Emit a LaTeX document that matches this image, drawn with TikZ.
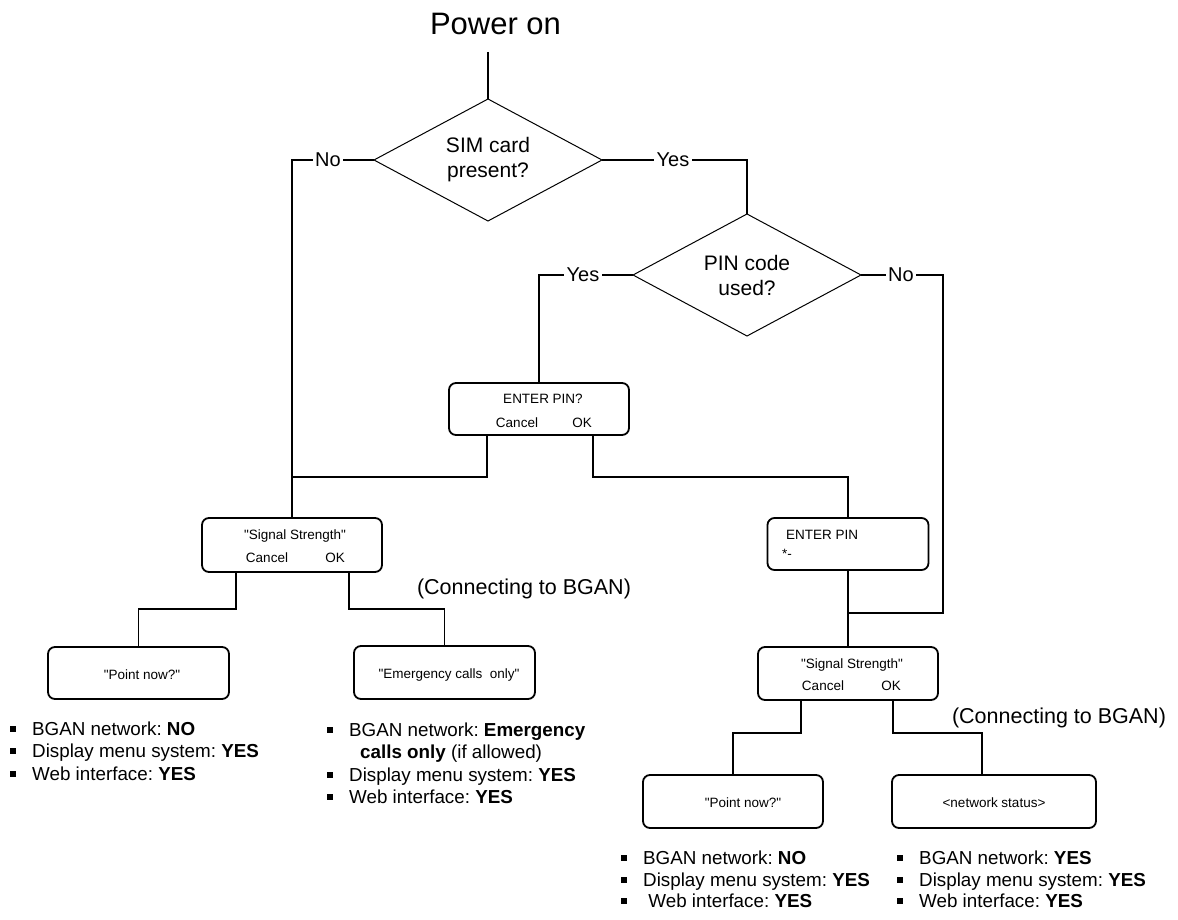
\documentclass[tikz,border=0pt]{standalone}
\usepackage{fontspec}
\setmainfont{Liberation Sans}[Ligatures=TeXOff]
\usetikzlibrary{shapes.geometric}
\newcommand{\bul}{\llap{\rule[3pt]{6pt}{6pt}\hspace{16pt}}}
\begin{document}
\frenchspacing
\begin{tikzpicture}[x=1pt,y=-1pt,
  conn/.style={line width=1.7pt},
  dia/.style={shape=diamond, draw, line width=1pt, minimum width=228pt, minimum height=122pt, inner sep=0pt, outer sep=0pt, aspect=1.87, align=center, font=\fontsize{21}{25}\selectfont},
  scr/.style={draw, line width=1.8pt, rounded corners=7pt, inner sep=0pt, outer sep=0pt},
  lbl/.style={font=\fontsize{20}{24}\selectfont, inner sep=2.5pt},
  stxt/.style={font=\fontsize{13.5}{16}\selectfont, anchor=base, inner sep=0pt},
  sltxt/.style={font=\fontsize{13.5}{16}\selectfont, anchor=base west, inner sep=0pt},
  btxt/.style={font=\fontsize{18.8}{22}\selectfont, anchor=base west, inner sep=0pt},
  note/.style={font=\fontsize{21.5}{25}\selectfont, anchor=base, inner sep=0pt}
]
\useasboundingbox (0,0) rectangle (1178,920);

% title
\node[font=\fontsize{31}{36}\selectfont, anchor=base, inner sep=0pt] (pwr) at (495.5,35) {Power on};
\coordinate (p0) at (488,52);

% decisions
\node[dia] (d1) at (488,160) {SIM card\\present?};
\node[dia] (d2) at (747,275) {PIN code\\used?};

% labels
\node[lbl] (no1) at (328,160) {No};
\node[lbl] (yes1) at (673,160) {Yes};
\node[lbl] (yes2) at (583,275) {Yes};
\node[lbl] (no2) at (901,275) {No};

% screens
\node[scr, minimum width=180pt, minimum height=52pt] (epq) at (539,409) {};
\node[scr, minimum width=180pt, minimum height=54pt] (ss1) at (292,545) {};
\node[scr, minimum width=161pt, minimum height=52pt] (ep) at (848,544) {};
\node[scr, minimum width=180pt, minimum height=53pt] (ss2) at (848,673.5) {};
\node[scr, minimum width=181pt, minimum height=52pt] (pn1) at (138.5,673) {};
\node[scr, minimum width=181pt, minimum height=53pt] (em) at (444.5,672.5) {};
\node[scr, minimum width=180pt, minimum height=53pt] (pn2) at (733,801.5) {};
\node[scr, minimum width=204pt, minimum height=53pt] (ns) at (994,801.5) {};

% screen texts
\node[stxt] (epq1) at (543,403) {ENTER PIN?};
\node[stxt] (epq2) at (517,427) {Cancel};
\node[stxt] (epq3) at (582,427) {OK};
\node[stxt] (ss1a) at (295,539) {"Signal Strength"};
\node[stxt] (ss1b) at (267,562) {Cancel};
\node[stxt] (ss1c) at (335,562) {OK};
\node[sltxt] (ep1) at (786,539) {ENTER PIN};
\node[sltxt] (ep2) at (782,558) {*-};
\node[stxt] (ss2a) at (852,668) {"Signal Strength"};
\node[stxt] (ss2b) at (823,690) {Cancel};
\node[stxt] (ss2c) at (891,690) {OK};
\node[stxt] (pn1t) at (142,679) {"Point now?"};
\node[stxt] (emt) at (449,678) {"Emergency calls\ \ only"};
\node[stxt] (pn2t) at (743,807) {"Point now?"};
\node[stxt] (nst) at (994,807) {<network status>};

% notes
\node[note] (c1) at (524,594) {(Connecting to BGAN)};
\node[note] (c2) at (1059,723) {(Connecting to BGAN)};

% bullet lists
\node[btxt] (la) at (32,735) {\bul BGAN network: \textbf{NO}};
\node[btxt] (lb) at (32,757) {\bul Display menu system: \textbf{YES}};
\node[btxt] (lc) at (32,780) {\bul Web interface: \textbf{YES}};

\node[btxt] (ma) at (349,736) {\bul BGAN network: \textbf{Emergency}};
\node[btxt] (mb) at (360,758) {\textbf{calls only} (if allowed)};
\node[btxt] (mc) at (349,781) {\bul Display menu system: \textbf{YES}};
\node[btxt] (md) at (349,803) {\bul Web interface: \textbf{YES}};

\node[btxt] (na) at (643,864) {\bul BGAN network: \textbf{NO}};
\node[btxt] (nb) at (643,886) {\bul Display menu system: \textbf{YES}};
\node[btxt] (nc) at (643,907) {\bul\ Web interface: \textbf{YES}};

\node[btxt] (ra) at (919,864) {\bul BGAN network: \textbf{YES}};
\node[btxt] (rb) at (919,886) {\bul Display menu system: \textbf{YES}};
\node[btxt] (rc) at (919,907) {\bul Web interface: \textbf{YES}};

% junction points
\coordinate (j1) at (292,477);
\coordinate (j3) at (848,477);
\coordinate (j2) at (943,613);

% connectors
\draw[conn] (p0) -- (d1.north);
\draw[conn] (d1.west) -- (no1.east);
\draw[conn] (no1.west) -| (ss1.north);
\draw[conn] (d1.east) -- (yes1.west);
\draw[conn] (yes1.east) -| (d2.north);
\draw[conn] (d2.west) -- (yes2.east);
\draw[conn] (yes2.west) -| (epq.north);
\draw[conn] (d2.east) -- (no2.west);
\draw[conn] (no2.east) -| (j2) -- (j2 -| ep.south);
\draw[conn] ([xshift=-52pt]epq.south) |- (j1);
\draw[conn] ([xshift=54pt]epq.south) |- (j3) -- (ep.north);
\draw[conn] (ep.south) -- (ss2.north);
\draw[conn] ([xshift=-56pt]ss1.south) -- ++(0,37) -| (pn1.north);
\draw[conn] ([xshift=57pt]ss1.south) -- ++(0,37) -| (em.north);
\draw[conn] ([xshift=-47pt]ss2.south) -- ++(0,33) -| (pn2.north);
\draw[conn] ([xshift=45pt]ss2.south) -- ++(0,33) -| ([xshift=-12pt]ns.north);
\end{tikzpicture}
\end{document}
